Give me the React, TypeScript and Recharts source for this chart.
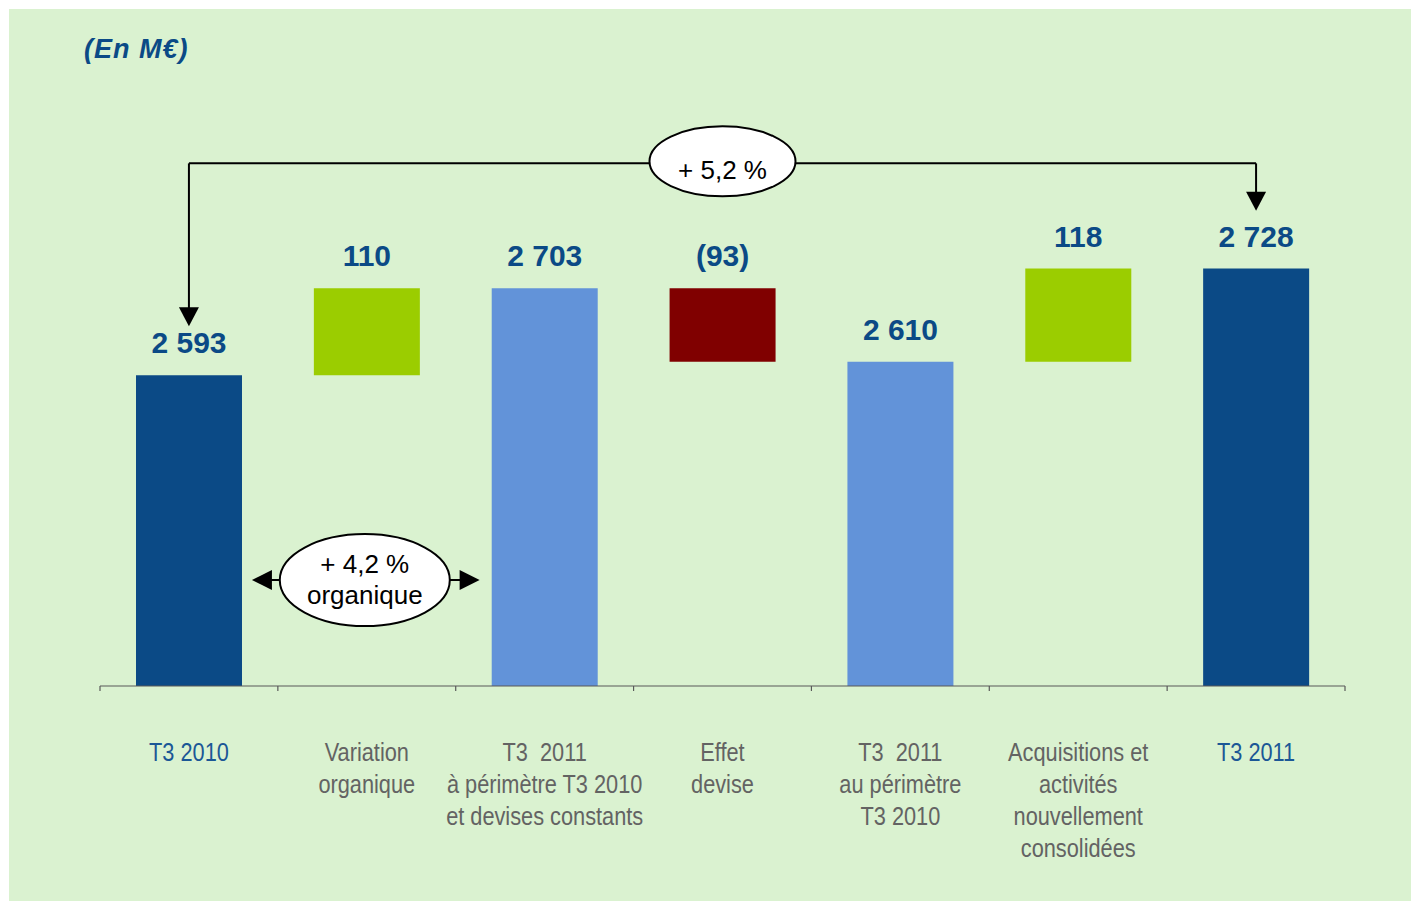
import {
  BarChart,
  Bar,
  XAxis,
  YAxis,
  Cell,
  LabelList,
  ReferenceLine,
  ReferenceDot,
} from "recharts";

// categories (line breaks = wrapped axis labels)
const categories = [
  "T3 2010",
  "Variation\norganique",
  "T3  2011\nà périmètre T3 2010\net devises constants",
  "Effet\ndevise",
  "T3  2011\nau périmètre\nT3 2010",
  "Acquisitions et\nactivités\nnouvellement\nconsolidées",
  "T3 2011",
];

// M€ — totals are absolute, deltas are variations
const values = [2593, 110, 2703, -93, 2610, 118, 2728];
const kinds = ["total", "delta", "subtotal", "delta", "subtotal", "delta", "total"];

const Y_DOMAIN = [2200, 2950];

// annotations (in M€ on the value axis)
const growthLabel = "+ 5,2 %";
const growthLevel = 2861;
const growthArrowEnds = [2655, 2801];
const organicLines = ["+ 4,2 %", "organique"];
const organicLevel = 2334;

const COLORS = {
  total: "#0B4A86",
  subtotal: "#6293D9",
  up: "#9BCD00",
  down: "#800000",
};

const W = 1402;
const H = 892;
const MARGIN = { top: 84, right: 66, bottom: 0, left: 91 };
const BAND = (W - MARGIN.left - MARGIN.right) / categories.length;
const BAR_SIZE = 106;

function fmt(v: number, kind: string) {
  if (kind === "delta") {
    return v < 0 ? `(${Math.abs(v)})` : `${v}`;
  }
  const s = String(v);
  return s.length > 3 ? `${s.slice(0, s.length - 3)} ${s.slice(-3)}` : s;
}

let running = 0;
const data = categories.map((name, i) => {
  const v = values[i];
  const kind = kinds[i];
  let range: number[];
  if (kind === "delta") {
    const start = running;
    running += v;
    range = [Math.min(start, running), Math.max(start, running)];
  } else {
    running = v;
    range = [Y_DOMAIN[0], v];
  }
  const color =
    kind === "total"
      ? COLORS.total
      : kind === "subtotal"
      ? COLORS.subtotal
      : v < 0
      ? COLORS.down
      : COLORS.up;
  return { name, range, label: fmt(v, kind), color, kind };
});

function ValueLabel(props: any) {
  const { x, y, width, index } = props;
  return (
    <text
      x={x + width / 2}
      y={y - 22}
      textAnchor="middle"
      fontFamily="'Liberation Sans', Arial, sans-serif"
      fontWeight="bold"
      fontSize={30}
      fill="#0B4A86"
    >
      {data[index].label}
    </text>
  );
}

function CategoryTick(props: any) {
  const { x, y, payload } = props;
  const index = payload.index ?? props.index;
  const lines = String(payload.value).split("\n");
  const isTotal = data[index]?.kind === "total";
  const last = index === categories.length - 1;
  return (
    <g>
      <line x1={x - BAND / 2} y1={y} x2={x - BAND / 2} y2={y + 5} stroke="#595959" strokeWidth={1.2} />
      {last && (
        <line x1={x + BAND / 2} y1={y} x2={x + BAND / 2} y2={y + 5} stroke="#595959" strokeWidth={1.2} />
      )}
      {/* narrow look of the original labels */}
      <g transform={`translate(${x},${y + 75}) scale(0.87,1)`}>
        <text
          x={0}
          y={0}
          textAnchor="middle"
          fontFamily="'Liberation Sans', Arial, sans-serif"
          fontSize={25}
          fill={isTotal ? "#1B5796" : "#636363"}
          style={{ whiteSpace: "pre" }}
        >
          {lines.map((l, i) => (
            <tspan key={i} x={0} dy={i === 0 ? 0 : 32}>
              {l}
            </tspan>
          ))}
        </text>
      </g>
    </g>
  );
}

function DownArrow(props: any) {
  const { x1, y1, x2, y2 } = props;
  return (
    <g>
      <line x1={x1} y1={y1} x2={x2} y2={y2 - 18} stroke="#000" strokeWidth={2} />
      <polygon points={`${x2 - 10},${y2 - 19} ${x2 + 10},${y2 - 19} ${x2},${y2}`} fill="#000" />
    </g>
  );
}

function DoubleArrow(props: any) {
  const { x1, y1, x2 } = props;
  const a = x1 + BAR_SIZE / 2 + 10;
  const b = x2 - BAR_SIZE / 2 - 12;
  return (
    <g>
      <line x1={a + 18} y1={y1} x2={b - 18} y2={y1} stroke="#000" strokeWidth={2} />
      <polygon points={`${a},${y1} ${a + 20},${y1 - 10} ${a + 20},${y1 + 10}`} fill="#000" />
      <polygon points={`${b},${y1} ${b - 20},${y1 - 10} ${b - 20},${y1 + 10}`} fill="#000" />
    </g>
  );
}

function GrowthBubble(props: any) {
  const { cx, cy } = props;
  return (
    <g>
      <ellipse cx={cx} cy={cy - 2} rx={73} ry={35} fill="#fff" stroke="#000" strokeWidth={2} />
      <text
        x={cx}
        y={cy + 16}
        textAnchor="middle"
        fontFamily="'Liberation Sans', Arial, sans-serif"
        fontSize={26}
        fill="#000"
      >
        {growthLabel}
      </text>
    </g>
  );
}

function OrganicBubble(props: any) {
  const { cx, cy } = props;
  return (
    <g>
      <ellipse cx={cx - 2} cy={cy} rx={85} ry={46} fill="#fff" stroke="#000" strokeWidth={2} />
      <text
        textAnchor="middle"
        fontFamily="'Liberation Sans', Arial, sans-serif"
        fontSize={26}
        fill="#000"
      >
        <tspan x={cx - 2} y={cy - 7}>
          {organicLines[0]}
        </tspan>
        <tspan x={cx - 2} y={cy + 24}>
          {organicLines[1]}
        </tspan>
      </text>
    </g>
  );
}

export default function App() {
  const first = categories[0];
  const lastCat = categories[categories.length - 1];
  return (
    <div
      style={{
        position: "fixed",
        left: 9,
        top: 9,
        width: W,
        height: H,
        background: "#DAF2D0",
      }}
    >
      <BarChart width={W} height={H} data={data} margin={MARGIN}>
        <XAxis
          dataKey="name"
          height={215}
          interval={0}
          tickLine={false}
          tickSize={0}
          tickMargin={0}
          axisLine={{ stroke: "#595959", strokeWidth: 1.2 }}
          tick={<CategoryTick />}
        />
        <YAxis hide type="number" domain={Y_DOMAIN} allowDataOverflow />
        <Bar dataKey="range" barSize={BAR_SIZE} isAnimationActive={false}>
          {data.map((d, i) => (
            <Cell key={i} fill={d.color} />
          ))}
          <LabelList dataKey="label" content={<ValueLabel />} />
        </Bar>

        <ReferenceLine
          segment={[
            { x: first, y: growthLevel },
            { x: lastCat, y: growthLevel },
          ]}
          stroke="#000"
          strokeWidth={2}
          ifOverflow="visible"
        />
        <ReferenceLine
          segment={[
            { x: first, y: growthLevel },
            { x: first, y: growthArrowEnds[0] },
          ]}
          shape={DownArrow}
          ifOverflow="visible"
        />
        <ReferenceLine
          segment={[
            { x: lastCat, y: growthLevel },
            { x: lastCat, y: growthArrowEnds[1] },
          ]}
          shape={DownArrow}
          ifOverflow="visible"
        />
        <ReferenceDot x={categories[3]} y={growthLevel} shape={GrowthBubble} ifOverflow="visible" />

        <ReferenceLine
          segment={[
            { x: categories[0], y: organicLevel },
            { x: categories[2], y: organicLevel },
          ]}
          shape={DoubleArrow}
          ifOverflow="visible"
        />
        <ReferenceDot x={categories[1]} y={organicLevel} shape={OrganicBubble} ifOverflow="visible" />
      </BarChart>
      <div
        style={{
          position: "absolute",
          left: 75,
          top: 27,
          fontFamily: "'Liberation Sans', Arial, sans-serif",
          fontWeight: "bold",
          fontStyle: "italic",
          fontSize: 27,
          letterSpacing: 1,
          lineHeight: "26px",
          color: "#0B4A86",
        }}
      >
        (En M€)
      </div>
    </div>
  );
}
